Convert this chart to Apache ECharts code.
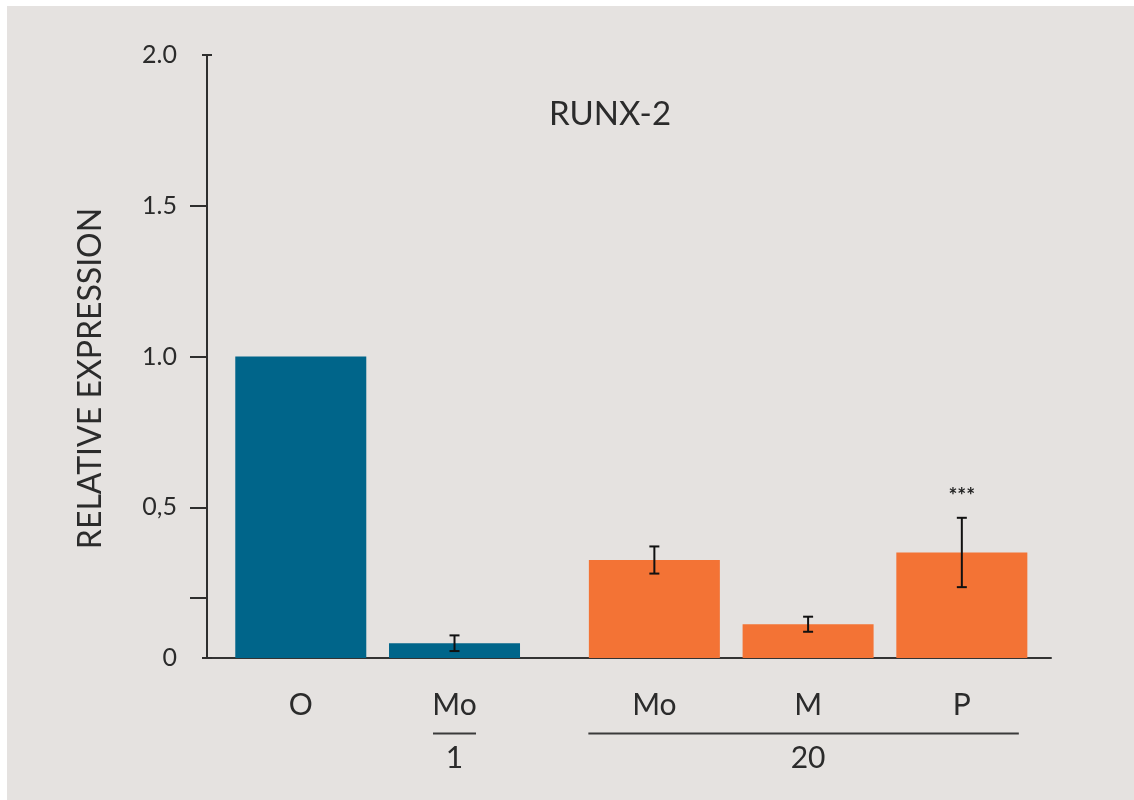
<!DOCTYPE html>
<html>
<head>
<meta charset="utf-8">
<title>RUNX-2</title>
<script src="https://cdn.jsdelivr.net/npm/echarts@6/dist/echarts.min.js"></script>
<style>
  html, body { margin: 0; padding: 0; background: #ffffff; }
  #chart { position: absolute; left: 7px; top: 6px; width: 1127px; height: 794px; background: #e5e2e0; }
</style>
</head>
<body>
<div id="chart"></div>
<script>
// Bar categories, their positions along the x scale (two treatment groups with a gap)
const categories = ['O', 'Mo', 'Mo', 'M', 'P'];
const slots = [0, 1, 2.3, 3.3, 4.3];
// Relative expression and error (±)
const values = [1.0, 0.049, 0.325, 0.112, 0.35];
const errors = [0, 0.026, 0.045, 0.025, 0.115];
const significance = ['', '', '', '', '***'];
const barColors = ['#00658a', '#00658a', '#f37335', '#f37335', '#f37335'];
// Group brackets under the category labels (indices into categories)
const groups = [
  { name: '1', first: 1, last: 1 },
  { name: '20', first: 2, last: 4 }
];
// Y axis ticks and labels
const yTickValues = [0.2, 0.5, 1.0, 1.5];
const yLabelValues = [0, 0.5, 1.0, 1.5, 2.0];
const yLabelTexts = ['0', '0,5', '1.0', '1.5', '2.0'];

const FONT = 'Lato, "Noto Sans", sans-serif';
const INK = '#2b2b2b';

const chart = echarts.init(document.getElementById('chart'), null, { renderer: 'canvas' });

function nearestIndex(arr, v) {
  let best = 0;
  for (let i = 1; i < arr.length; i++) {
    if (Math.abs(arr[i] - v) < Math.abs(arr[best] - v)) best = i;
  }
  return best;
}

const option = {
  backgroundColor: '#e5e2e0',
  animation: false,
  title: {
    text: 'RUNX-2',
    left: 598,
    top: 87,
    textAlign: 'center',
    textStyle: { fontFamily: FONT, fontSize: 33, fontWeight: 'normal', color: INK }
  },
  grid: { left: 200, right: 83, top: 49, bottom: 142, containLabel: false, outerBoundsMode: 'none' },
  xAxis: {
    type: 'value',
    min: -0.61,
    max: 4.88,
    splitLine: { show: false },
    axisTick: { show: false },
    axisLine: { show: true, onZero: false, lineStyle: { color: '#333', width: 2 } },
    axisLabel: {
      customValues: slots,
      margin: 32,
      fontFamily: FONT,
      fontSize: 30,
      color: INK,
      formatter: v => categories[nearestIndex(slots, v)]
    }
  },
  yAxis: {
    type: 'value',
    min: 0,
    max: 2,
    splitLine: { show: false },
    name: 'RELATIVE EXPRESSION',
    nameLocation: 'middle',
    nameRotate: 90,
    nameGap: 100,
    nameTextStyle: { fontFamily: FONT, fontSize: 32, color: INK, padding: [0, 44, 0, 0] },
    axisLine: {
      show: true,
      onZero: false,
      symbol: ['rect', 'rect'],
      symbolSize: [10, 2],
      lineStyle: { color: '#2e2e2e', width: 2 }
    },
    axisTick: {
      show: true,
      customValues: yTickValues,
      length: 17,
      lineStyle: { color: '#2e2e2e', width: 2 }
    },
    axisLabel: {
      customValues: yLabelValues,
      margin: 30,
      fontFamily: FONT,
      fontSize: 25,
      color: INK,
      formatter: v => yLabelTexts[nearestIndex(yLabelValues, v)]
    }
  },
  series: [
    {
      type: 'bar',
      barWidth: 131,
      data: slots.map((s, i) => ({ value: [s, values[i]], itemStyle: { color: barColors[i] } })),
      z: 2
    },
    {
      type: 'custom',
      z: 5,
      encode: { x: 0, y: 1 },
      data: slots.map((s, i) => [s, values[i], errors[i]]),
      renderItem: function (params, api) {
        const x = api.value(0), v = api.value(1), e = api.value(2);
        const idx = params.dataIndex;
        if (!e) return { type: 'group', children: [] };
        const top = api.coord([x, v + e]);
        const bot = api.coord([x, v - e]);
        const cap = 5;
        const st = { stroke: '#111', lineWidth: 2 };
        const children = [
          { type: 'line', shape: { x1: top[0], y1: top[1], x2: bot[0], y2: bot[1] }, style: st },
          { type: 'line', shape: { x1: top[0] - cap, y1: top[1], x2: top[0] + cap, y2: top[1] }, style: st },
          { type: 'line', shape: { x1: bot[0] - cap, y1: bot[1], x2: bot[0] + cap, y2: bot[1] }, style: st }
        ];
        if (significance[idx]) {
          children.push({
            type: 'text',
            x: top[0],
            y: top[1] - 22,
            style: {
              text: significance[idx],
              align: 'center',
              verticalAlign: 'middle',
              fontFamily: FONT,
              fontSize: 21,
              fontWeight: 'bold',
              fill: '#222'
            }
          });
        }
        return { type: 'group', children: children };
      }
    }
  ]
};

chart.setOption(option);

// Group brackets: a rule and a group label beneath the category labels
function drawGroups() {
  const y0 = chart.convertToPixel({ yAxisIndex: 0 }, 0);
  const elements = [];
  groups.forEach(g => {
    const xa = chart.convertToPixel({ xAxisIndex: 0 }, slots[g.first]);
    const xb = chart.convertToPixel({ xAxisIndex: 0 }, slots[g.last]);
    const single = g.first === g.last;
    const extL = single ? 21.5 : 66;
    const extR = single ? 21.5 : 57;
    elements.push({
      type: 'line',
      shape: { x1: xa - extL, y1: y0 + 75.5, x2: xb + extR, y2: y0 + 75.5 },
      style: { stroke: '#3a3a3a', lineWidth: 2 },
      silent: true
    });
    elements.push({
      type: 'text',
      x: (xa + xb) / 2,
      y: y0 + 85,
      style: { text: g.name, align: 'center', verticalAlign: 'top', fontFamily: FONT, fontSize: 30, fill: INK },
      silent: true
    });
  });
  chart.setOption({ graphic: { elements: elements } });
}
drawGroups();
</script>
</body>
</html>
